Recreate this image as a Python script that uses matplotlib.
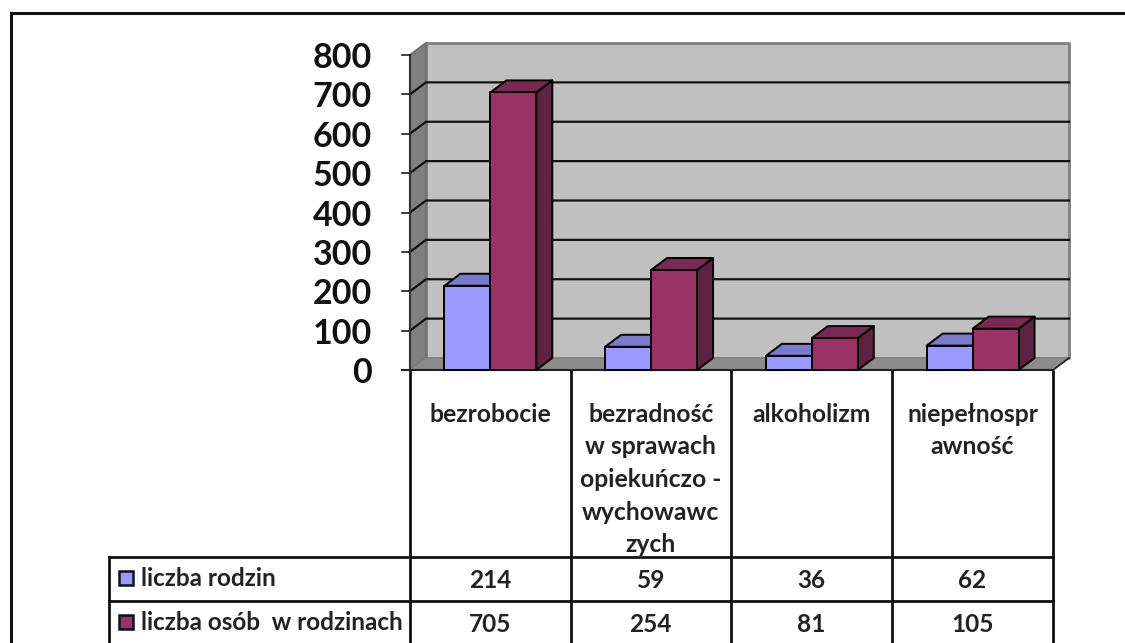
import matplotlib
matplotlib.use('Agg')
import matplotlib.pyplot as plt
from matplotlib.patches import Polygon, Rectangle

plt.rcParams['font.family'] = ['Lato', 'DejaVu Sans']

categories = ['bezrobocie', 'bezradność\nw sprawach\nopiekuńczo -\nwychowawc\nzych',
              'alkoholizm', 'niepełnospr\nawność']
series_names = ['liczba rodzin', 'liczba osób  w rodzinach']
families = [214, 59, 36, 62]
people = [705, 254, 81, 105]
yticks = [0, 100, 200, 300, 400, 500, 600, 700, 800]
front_colors = ['#9999FF', '#993366']
top_colors = ['#7A7ACC', '#7A2952']
side_colors = ['#5C5C99', '#5E2340']

W, H = 1125, 643
# front plane of the plot in pixels
left, right, base, top = 410, 1053, 370, 55
depth_x, depth_y = 16, 12

fig = plt.figure(figsize=(W/100, H/100), dpi=100)

# overlay in pixels for frame and table
bg = fig.add_axes([0, 0, 1, 1])
bg.set_xlim(0, W)
bg.set_ylim(H, 0)
bg.axis('off')

ax = fig.add_axes([left/W, 1-base/H, (right-left)/W, (base-top)/H])
ax.set_xlim(0, 4)
ax.set_ylim(0, 800)
ax.axis('off')

dx = depth_x*4/(right-left)
dy = depth_y*800/(base-top)

def poly(pts, fc, ec='black', lw=1.4, z=2):
    ax.add_patch(Polygon(pts, closed=True, fc=fc, ec=ec, lw=lw, clip_on=False, zorder=z, joinstyle='round'))

# walls
poly([(dx, dy), (4+dx, dy), (4+dx, 800+dy), (dx, 800+dy)], '#C0C0C0', '#808080', 2, 1)
poly([(0, 0), (dx, dy), (dx, 800+dy), (0, 800)], '#808080', '#707070', 1.5, 1)
poly([(0, 0), (4, 0), (4+dx, dy), (dx, dy)], '#8C8C8C', '#808080', 1, 1)

for v in yticks:
    ax.plot([-8*4/(right-left), 0], [v, v], color='#222222', lw=1.2, clip_on=False, zorder=3)
    ax.text(-38*4/(right-left), v, str(v), ha='right', va='center_baseline', fontsize=24.5,
            fontweight='bold', color='#111111', clip_on=False)
    if 0 < v < 800:
        ax.plot([0, dx, 4+dx], [v, v+dy, v+dy], color='#111111', lw=1.6, clip_on=False, zorder=1.5)

ax.plot([-8*4/(right-left), 4], [0, 0], color='#222222', lw=1.5, clip_on=False, zorder=3)
ax.plot([4, 4+dx], [0, dy], color='#222222', lw=1.2, clip_on=False, zorder=1.5)
ax.plot([0, 0], [0, 800], color='#333333', lw=1.5, clip_on=False, zorder=1.5)

bar_w = 0.2857
start = 0.2143
for i in range(4):
    for j, vals in enumerate([families, people]):
        x0 = i + start + j*bar_w
        x1 = x0 + bar_w
        v = vals[i]
        poly([(x1, 0), (x1+dx, dy), (x1+dx, v+dy), (x1, v)], side_colors[j], z=4)
        poly([(x0, v), (x1, v), (x1+dx, v+dy), (x0+dx, v+dy)], top_colors[j], z=4)
        poly([(x0, 0), (x1, 0), (x1, v), (x0, v)], front_colors[j], z=4)

# table grid
col_x = [410, 570.5, 731, 892, 1053]
row_y = [557, 601]
lw_t = 2
for x in col_x:
    bg.plot([x, x], [370, H], color='#111111', lw=lw_t, solid_capstyle='butt')
bg.plot([109, 1053], [row_y[0], row_y[0]], color='#111111', lw=lw_t)
bg.plot([109, 1053], [row_y[1], row_y[1]], color='#111111', lw=lw_t)
bg.plot([109, 109], [row_y[0], H], color='#111111', lw=lw_t)

# outer frame
bg.plot([10.5, 10.5, W], [H, 12.5, 12.5], color='#111111', lw=2.2, solid_joinstyle='miter')

# category labels
for i, label in enumerate(categories):
    cx = (col_x[i]+col_x[i+1])/2
    for k, line in enumerate(label.split('\n')):
        bg.text(cx, 414+k*32.7, line, ha='center', va='center', fontsize=17.8,
                fontweight='bold', color='#222222')

# series rows
text_y = [578, 622]
for r, (name, vals) in enumerate(zip(series_names, [families, people])):
    bg.add_patch(Rectangle((119, text_y[r]-7.5), 14, 14, fc=front_colors[r], ec='#111111', lw=1.8))
    bg.text(141, text_y[r], name, ha='left', va='center', fontsize=17.5,
            fontweight='bold', color='#222222')
    for i, v in enumerate(vals):
        bg.text((col_x[i]+col_x[i+1])/2, text_y[r]+2, str(v), ha='center', va='center',
                fontsize=17.6, fontweight='bold', color='#222222')

fig.savefig('out.png', dpi=100)
